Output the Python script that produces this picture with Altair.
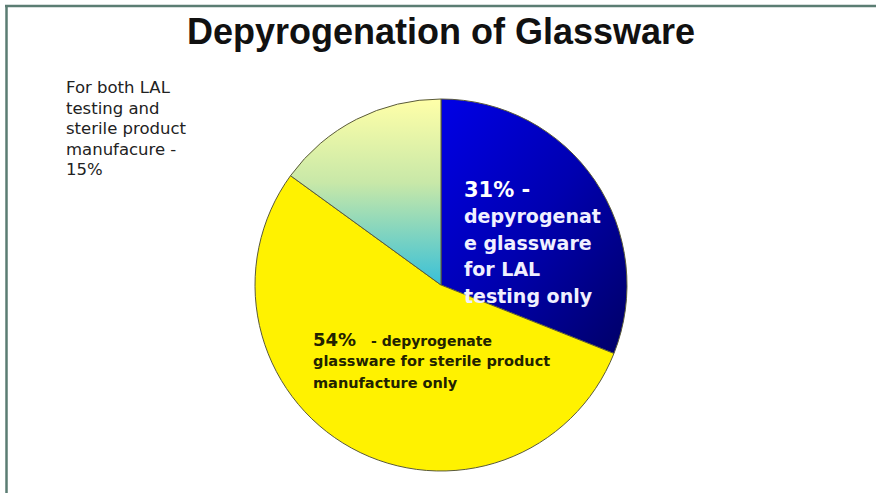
import math
import altair as alt
import pandas as pd

# ---- data ----
categories = ["LAL testing only", "Sterile product manufacture only", "Both"]
values = [31, 54, 15]

title_text = "Depyrogenation of Glassware"
left_lines = ["For both LAL", "testing and", "sterile product", "manufacure -", "15%"]
blue_head = "31% -"
blue_lines = ["depyrogenat", "e glassware", "for LAL", "testing only"]
yellow_head = "54%"
yellow_first = "- depyrogenate"
yellow_lines = ["glassware for sterile product", "manufacture only"]

W, H = 876, 493
CX, CY, R = 441, 285, 186

df = pd.DataFrame({"category": categories, "value": values, "order": [0, 1, 2]})

blue_grad = alt.LinearGradient(
    gradient="linear",
    stops=[alt.GradientStop(color="#0000e6", offset=0),
           alt.GradientStop(color="#0000b0", offset=0.5),
           alt.GradientStop(color="#000066", offset=1)],
    x1=0, y1=0, x2=1, y2=1,
)
pale_grad = alt.LinearGradient(
    gradient="linear",
    stops=[alt.GradientStop(color="#ffffa8", offset=0),
           alt.GradientStop(color="#c8e8a8", offset=0.45),
           alt.GradientStop(color="#38c0d8", offset=1)],
    x1=0, y1=0, x2=0, y2=1,
)
fills = {"LAL testing only": blue_grad,
         "Sterile product manufacture only": "#fff200",
         "Both": pale_grad}

theta_scale = alt.Scale(domain=[0, 100], range=[0, 2 * math.pi])

base = alt.Chart(df).transform_window(
    cum="sum(value)", sort=[alt.SortField("order")], frame=[None, 0]
).transform_calculate(start="datum.cum - datum.value")

slices = []
for cat in categories:
    slices.append(
        base.transform_filter(alt.datum.category == cat)
        .mark_arc(outerRadius=R, color=fills[cat], stroke="#5a5a3a", strokeWidth=1)
        .encode(
            theta=alt.Theta("start:Q", scale=theta_scale),
            theta2="cum:Q",
            x=alt.value(CX),
            y=alt.value(CY),
        )
    )

one = pd.DataFrame({"k": [0]})

def txt(text, x, y, size, color, bold=True, lh=None, align="left",
        baseline="top", font="DejaVu Sans"):
    kw = dict(font=font, fontSize=size, color=color, align=align, baseline=baseline,
              fontWeight="bold" if bold else "normal")
    if lh:
        kw["lineHeight"] = lh
    return alt.Chart(one).mark_text(**kw).encode(
        x=alt.value(x), y=alt.value(y), text=alt.value(text))

texts = [
    txt(title_text, 441, 44, 36, "#111111", baseline="alphabetic", align="center",
        font="Liberation Sans"),
    txt(left_lines, 66, 80, 16.5, "#222222", bold=False, lh=20.5),
    txt(blue_head, 464, 180, 21, "#ffffff"),
    txt(blue_lines, 464, 208, 19, "#f0f0ff", lh=26.7),
    txt(yellow_head, 313, 332, 18, "#222200"),
    txt(yellow_first, 371, 335, 14, "#222200"),
    txt(yellow_lines, 313, 355, 14.5, "#222200", lh=21.5),
]

border_color = "#5b7d73"
border = [
    alt.Chart(one).mark_rule(color=border_color, strokeWidth=2.5).encode(
        x=alt.value(5), x2=alt.value(W), y=alt.value(6)),
    alt.Chart(one).mark_rule(color=border_color, strokeWidth=2.5).encode(
        x=alt.value(6.5), y=alt.value(5), y2=alt.value(H)),
]

chart = alt.layer(*slices, *texts, *border).properties(
    width=W, height=H, padding=0, autosize="none", background="white"
).configure_view(stroke=None)

chart.save("out.html", embed_options={"renderer": "svg", "actions": False})
